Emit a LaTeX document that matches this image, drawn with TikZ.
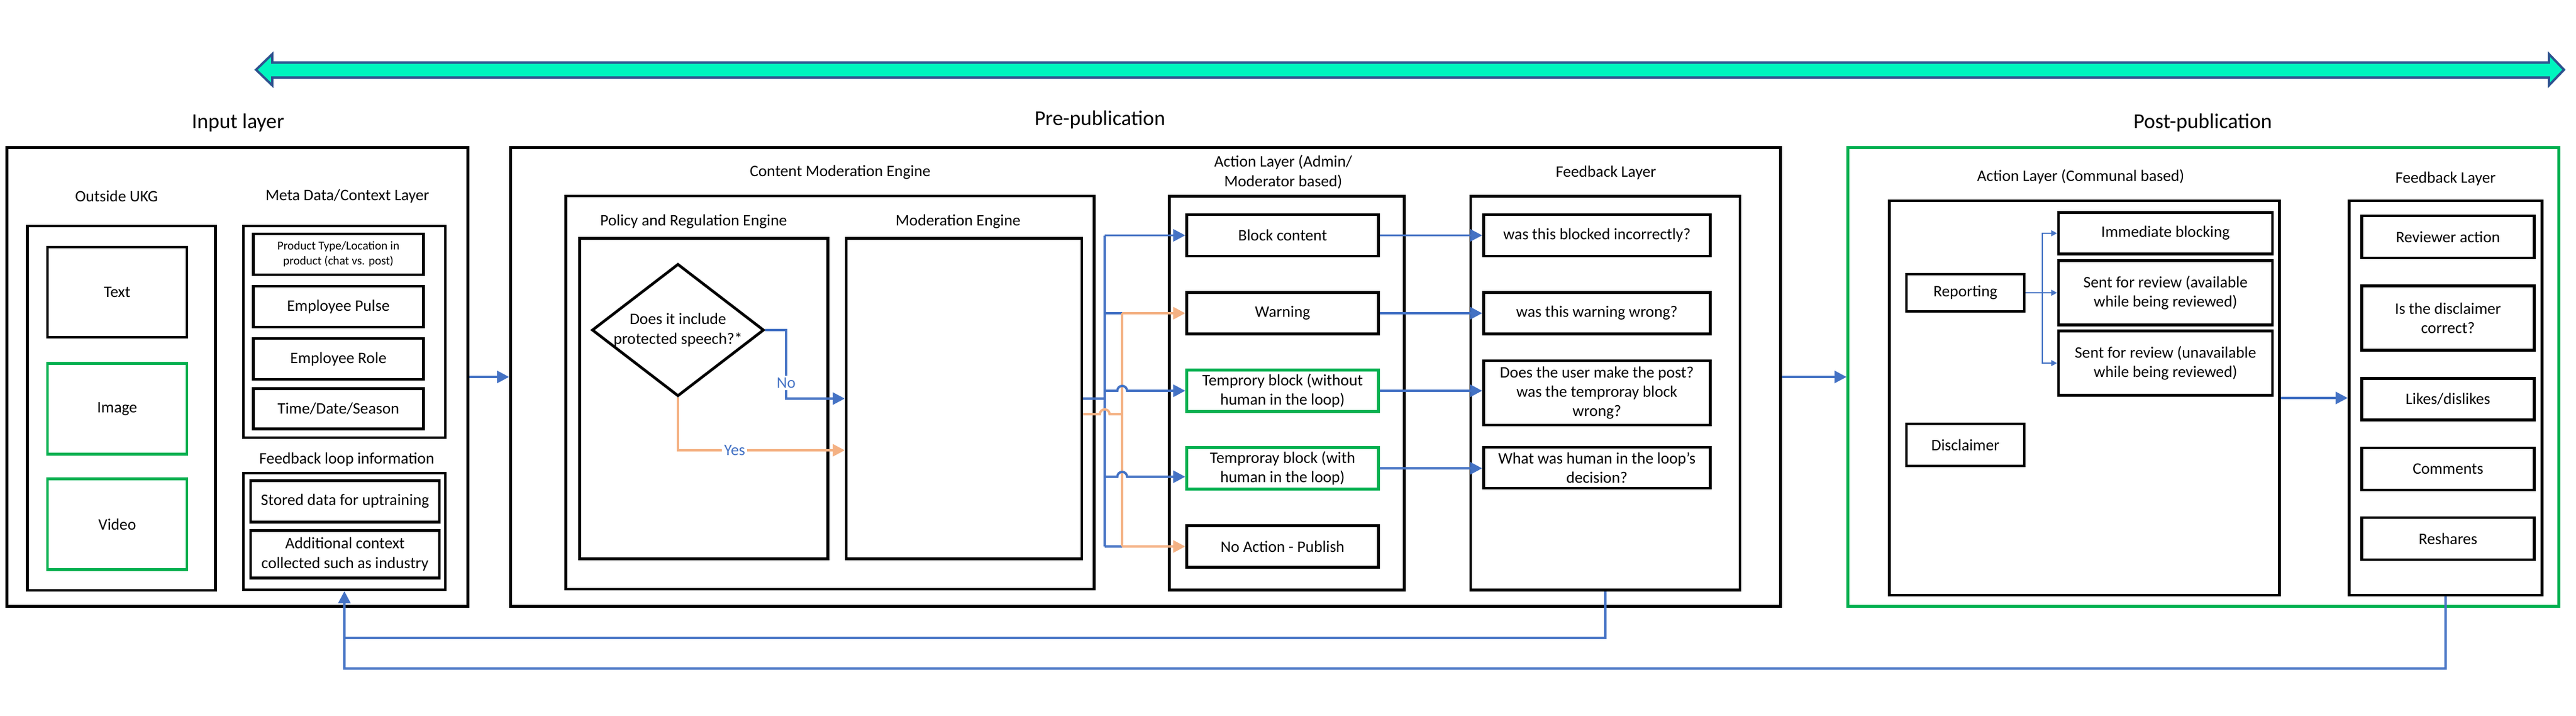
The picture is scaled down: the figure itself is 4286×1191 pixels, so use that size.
\documentclass[tikz,border=0pt]{standalone}
\usepackage{fontspec}
\setmainfont{Carlito}
\usepackage{tikz}
\usetikzlibrary{shapes.geometric}
\usetikzlibrary{arrows.meta, positioning}
\usepackage{xcolor}

\definecolor{flowblue}{HTML}{4472C4}
\definecolor{floworange}{HTML}{F4B183}
\definecolor{ukggreen}{HTML}{00B050}
\definecolor{bandfill}{HTML}{00F5BE}
\definecolor{bandedge}{HTML}{2F528F}

\begin{document}
\begin{tikzpicture}[x=0.01cm, y=-0.01cm,
    box/.style={draw, line width=1.3pt, align=center, inner sep=1pt, font=\fontsize{7.6}{9.2}\selectfont},
    greenbox/.style={box, draw=ukggreen},
    heading/.style={align=center, inner sep=0pt, font=\fontsize{7.6}{9.2}\selectfont},
    phase/.style={inner sep=0pt, font=\fontsize{10}{12}\selectfont},
    flow/.style={draw=flowblue, line width=1.1pt, -{Triangle[length=5.7pt, width=5.7pt]}},
    yesflow/.style={flow, draw=floworange},
    thinflow/.style={draw=flowblue, line width=0.6pt, -{Triangle[length=2.8pt, width=2.8pt]}},
    bus/.style={draw=flowblue, line width=1.1pt}]
    \useasboundingbox (0,0) rectangle (4286,1191);

    % Timeline band
    \filldraw[fill=bandfill, draw=bandedge, line width=1.1pt, line join=miter]
        (426,116) -- (453,90) -- (453,104) -- (4241,104) -- (4241,90) -- (4266,116)
        -- (4241,142) -- (4241,129) -- (453,129) -- (453,142) -- cycle;

    % Phases
    \node[phase] (inTitle) at (396,204) {Input layer};
    \node[phase] (preTitle) at (1830,199) {Pre-publication};
    \node[phase] (postTitle) at (3665,204) {Post-publication};
    \node[box, minimum width=7.66cm, minimum height=7.62cm] (inBox) at (395,627) {};
    \node[box, minimum width=21.12cm, minimum height=7.62cm] (preBox) at (1906,627) {};
    \node[greenbox, minimum width=11.82cm, minimum height=7.62cm] (postBox) at (3666,627) {};

    % Input layer
    \node[heading] (outTitle) at (194,326) {Outside UKG};
    \node[heading] (metaTitle) at (578,326) {Meta Data/Context Layer};
    \node[box, minimum width=3.13cm, minimum height=6.06cm] (outBox) at (202,679) {};
    \node[box, minimum width=2.32cm, minimum height=1.5cm] (text) at (195,486) {Text};
    \node[greenbox, minimum width=2.32cm, minimum height=1.51cm] (image) at (195,680) {Image};
    \node[greenbox, minimum width=2.32cm, minimum height=1.51cm] (video) at (195,872) {Video};
    \node[box, minimum width=3.36cm, minimum height=3.52cm] (metaBox) at (573,552) {};
    \node[box, minimum width=2.83cm, minimum height=0.68cm, font=\fontsize{5.7}{7.1}\selectfont] (product) at (563,423) {Product Type/Location in\\product (chat vs. post)};
    \node[box, minimum width=2.83cm, minimum height=0.68cm] (pulse) at (563,510) {Employee Pulse};
    \node[box, minimum width=2.83cm, minimum height=0.68cm] (role) at (563,597) {Employee Role};
    \node[box, minimum width=2.83cm, minimum height=0.67cm] (season) at (563,680) {Time/Date/Season};
    \node[heading] (loopTitle) at (577,764) {Feedback loop information};
    \node[box, minimum width=3.36cm, minimum height=1.94cm] (loopBox) at (573,884) {};
    \node[box, minimum width=3.14cm, minimum height=0.69cm] (stored) at (574,834) {Stored data for uptraining};
    \node[box, minimum width=3.14cm, minimum height=0.79cm] (context) at (574,922) {Additional context\\collected such as industry};

    % Content moderation engine
    \node[heading] (cmeTitle) at (1398,287) {Content Moderation Engine};
    \node[box, minimum width=8.79cm, minimum height=6.54cm] (cmeBox) at (1381,653) {};
    \node[heading] (policyTitle) at (1154,369) {Policy and Regulation Engine};
    \node[heading] (modTitle) at (1594,369) {Moderation Engine};
    \node[box, minimum width=4.13cm, minimum height=5.33cm] (policyBox) at (1171,663) {};
    \node[box, minimum width=3.92cm, minimum height=5.33cm] (modBox) at (1604,663) {};
    \node[box, diamond, aspect=1.3, inner sep=0pt, minimum width=2.82cm, minimum height=2.18cm] (speech) at (1128,549) {Does it include\\protected speech?*};

    % Action layer (admin/moderator)
    \node[heading] (actTitle) at (2135,286) {Action Layer (Admin/\\Moderator based)};
    \node[box, minimum width=3.91cm, minimum height=6.55cm] (actBox) at (2141,654) {};
    \node[box, minimum width=3.19cm, minimum height=0.69cm] (block) at (2134,391.5) {Block content};
    \node[box, minimum width=3.19cm, minimum height=0.69cm] (warn) at (2134,521) {Warning};
    \node[greenbox, minimum width=3.19cm, minimum height=0.69cm] (tempA) at (2134,650) {Temprory block (without\\human in the loop)};
    \node[greenbox, minimum width=3.19cm, minimum height=0.69cm] (tempB) at (2134,779) {Temproray block (with\\human in the loop)};
    \node[box, minimum width=3.19cm, minimum height=0.69cm] (noact) at (2134,909) {No Action - Publish};

    % Feedback layer (pre-publication)
    \node[heading] (fbTitle) at (2672,287) {Feedback Layer};
    \node[box, minimum width=4.48cm, minimum height=6.55cm] (fbBox) at (2671,654) {};
    \node[box, minimum width=3.77cm, minimum height=0.69cm] (fbA) at (2657,391.5) {was this blocked incorrectly?};
    \node[box, minimum width=3.77cm, minimum height=0.69cm] (fbB) at (2657,521) {was this warning wrong?};
    \node[box, minimum width=3.77cm, minimum height=1.07cm] (fbC) at (2657,653.5) {Does the user make the post?\\was the temproray block\\wrong?};
    \node[box, minimum width=3.77cm, minimum height=0.68cm] (fbD) at (2657,778) {What was human in the loop's\\decision?};

    % Post-publication
    \node[heading] (pactTitle) at (3462,294) {Action Layer (Communal based)};
    \node[box, minimum width=6.49cm, minimum height=6.56cm] (pactBox) at (3468,662) {};
    \node[heading] (pfbTitle) at (4069,297) {Feedback Layer};
    \node[box, minimum width=3.21cm, minimum height=6.56cm] (pfbBox) at (4069,662) {};
    \node[box, minimum width=1.96cm, minimum height=0.62cm] (reporting) at (3270,487) {Reporting};
    \node[box, minimum width=1.96cm, minimum height=0.70cm] (disclaimer) at (3270,740) {Disclaimer};
    \node[box, minimum width=3.56cm, minimum height=0.69cm] (immediate) at (3603,388) {Immediate blocking};
    \node[box, minimum width=3.56cm, minimum height=1.07cm] (availRev) at (3603,487) {Sent for review (available\\while being reviewed)};
    \node[box, minimum width=3.56cm, minimum height=1.07cm] (unavailRev) at (3603,604) {Sent for review (unavailable\\while being reviewed)};
    \node[box, minimum width=2.87cm, minimum height=0.70cm] (reviewer) at (4073,394) {Reviewer action};
    \node[box, minimum width=2.87cm, minimum height=1.07cm] (discCheck) at (4073,529) {Is the disclaimer\\correct?};
    \node[box, minimum width=2.87cm, minimum height=0.69cm] (likes) at (4073,664) {Likes/dislikes};
    \node[box, minimum width=2.87cm, minimum height=0.70cm] (comments) at (4073,780) {Comments};
    \node[box, minimum width=2.87cm, minimum height=0.70cm] (reshares) at (4073,896) {Reshares};

    % Between layers
    \draw[flow] (inBox.east) -- (preBox.west);
    \draw[flow] (preBox.east) -- (postBox.west);

    % Policy decision
    \draw[flow] (speech.east) -- (1308,549) -- node[pos=0.77, heading, fill=white, inner sep=1pt, text=flowblue] {No} (1308,663) -- (modBox.west);
    \draw[yesflow] (speech.south) |- node[pos=0.67, heading, fill=white, inner sep=1pt, text=flowblue] {Yes} (modBox.west |- 0,749);

    % Routing to the action layer
    \coordinate (blueTop) at (1838,391.5);
    \coordinate (blueEnd) at (1838,909);
    \coordinate (orangeTop) at (1867,521);
    \coordinate (orangeEnd) at (1867,909);
    \draw[bus] (modBox.east) -- (1838,663);
    \draw[bus] (blueTop) -- (blueEnd);
    \draw[flow] (blueTop) -- (block.west);
    \draw[bus] (1838,521) -- (orangeTop);
    \draw[bus] (blueEnd) -- (orangeEnd);
    \draw[bus, draw=floworange] (modBox.east |- 0,689) -- (1830,689) arc[start angle=180, end angle=0, radius=2.3pt] -- (1867,689);
    \draw[bus, draw=floworange] (orangeTop) -- (orangeEnd);
    \draw[yesflow] (orangeTop) -- (warn.west);
    \draw[yesflow] (orangeEnd) -- (noact.west);
    \draw[flow] (1838,650) -- (1859,650) arc[start angle=180, end angle=0, radius=2.3pt] -- (tempA.west);
    \draw[flow] (1838,793) -- (1859,793) arc[start angle=180, end angle=0, radius=2.3pt] -- (tempB.west |- 0,793);

    % Action to feedback
    \draw[flow] (block.east) -- (fbA.west);
    \draw[flow] (warn.east) -- (fbB.west);
    \draw[flow] (tempA.east) -- (tempA.east -| fbC.west);
    \draw[flow] (tempB.east) -- (tempB.east -| fbD.west);

    % Communal actions
    \coordinate (reportBus) at (3398,487);
    \draw[thinflow] (reporting.east) -- (availRev.west);
    \draw[thinflow] (reportBus) |- (immediate.west);
    \draw[thinflow] (reportBus) |- (unavailRev.west);
    \draw[flow] (pactBox.east) -- (pfbBox.west);

    % Feedback loops back to the input layer
    \coordinate (loopJoin) at (573,1061);
    \draw[flow] (fbBox.south) |- (loopJoin) -- (loopBox.south);
    \draw[bus] (pfbBox.south) |- (573,1112) -- (loopJoin);
\end{tikzpicture}
\end{document}
